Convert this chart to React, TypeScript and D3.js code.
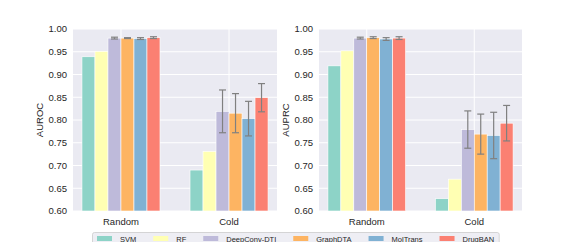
import React from 'react';
import { scaleBand, scaleLinear, range } from 'd3';

const categories = ['Random', 'Cold'];
const models = ['SVM', 'RF', 'DeepConv-DTI', 'GraphDTA', 'MolTrans', 'DrugBAN'];
const colors = ['#8dd3c7', '#ffffb3', '#bebada', '#fdb462', '#80b1d3', '#fb8072'];
const yTicks = [0.6, 0.65, 0.7, 0.75, 0.8, 0.85, 0.9, 0.95, 1.0];

// per model: [Random, Cold]
const aurocMean = [
  [0.939, 0.69],
  [0.951, 0.731],
  [0.98, 0.819],
  [0.98, 0.815],
  [0.979, 0.803],
  [0.981, 0.849],
];
const aurocErr = [
  [0, 0],
  [0, 0],
  [0.002, 0.047],
  [0.001, 0.043],
  [0.002, 0.038],
  [0.002, 0.031],
];
const auprcMean = [
  [0.919, 0.627],
  [0.952, 0.67],
  [0.98, 0.779],
  [0.981, 0.769],
  [0.978, 0.766],
  [0.98, 0.793],
];
const auprcErr = [
  [0, 0],
  [0, 0],
  [0.002, 0.041],
  [0.002, 0.044],
  [0.003, 0.051],
  [0.003, 0.039],
];

const W = 581;
const H = 242;
const top = 29;
const bottom = 211;
const font = '"Liberation Sans", Arial, sans-serif';
const textColor = '#262626';

const measure = (() => {
  let ctx: CanvasRenderingContext2D | null = null;
  return (s: string, size: number) => {
    if (!ctx) ctx = document.createElement('canvas').getContext('2d');
    if (!ctx) return s.length * size * 0.55;
    ctx.font = `${size}px ${font}`;
    return ctx.measureText(s).width;
  };
})();

const Panel = ({ x0, x1, label, mean, err }: any) => {
  const y = scaleLinear().domain([0.6, 1.0]).range([bottom, top]);
  const xCat = scaleBand().domain(categories).range([x0, x1]).paddingInner(0.278).paddingOuter(0.083);
  const xModel = scaleBand().domain(models).range([0, xCat.bandwidth()]);
  const capW = 3.5;
  return (
    <g>
      <rect x={x0} y={top} width={x1 - x0} height={bottom - top} fill='#eaeaf2' />
      {yTicks.map(t => (
        <line key={t} x1={x0} x2={x1} y1={y(t)} y2={y(t)} stroke='white' strokeWidth={1} />
      ))}
      {categories.map(c => (
        <line
          key={c}
          x1={xCat(c)! + xCat.bandwidth() / 2}
          x2={xCat(c)! + xCat.bandwidth() / 2}
          y1={top}
          y2={bottom}
          stroke='white'
          strokeWidth={1}
        />
      ))}
      {models.map((m, i) =>
        categories.map((c, j) => (
          <rect
            key={m + c}
            x={xCat(c)! + xModel(m)!}
            y={y(mean[i][j])}
            width={xModel.bandwidth()}
            height={bottom - y(mean[i][j])}
            fill={colors[i]}
            stroke='white'
            strokeWidth={0.6}
          />
        ))
      )}
      {models.map((m, i) =>
        categories.map((c, j) => {
          const e = err[i][j];
          if (!e) return null;
          const cx = xCat(c)! + xModel(m)! + xModel.bandwidth() / 2;
          const yt = y(mean[i][j] + e);
          const yb = y(mean[i][j] - e);
          return (
            <g key={m + c} stroke='#808080' strokeWidth={1.2}>
              <line x1={cx} x2={cx} y1={yt} y2={yb} />
              <line x1={cx - capW} x2={cx + capW} y1={yt} y2={yt} />
              <line x1={cx - capW} x2={cx + capW} y1={yb} y2={yb} />
            </g>
          );
        })
      )}
      {yTicks.map(t => (
        <text
          key={t}
          x={x0 - 6}
          y={y(t)}
          dy='.35em'
          textAnchor='end'
          fontSize={9.5}
          fontFamily={font}
          fill={textColor}>
          {t.toFixed(2)}
        </text>
      ))}
      {categories.map(c => (
        <text
          key={c}
          x={xCat(c)! + xCat.bandwidth() / 2}
          y={bottom + 14}
          textAnchor='middle'
          fontSize={9.5}
          fontFamily={font}
          fill={textColor}>
          {c}
        </text>
      ))}
      <text
        transform={`translate(${x0 - 30}, ${(top + bottom) / 2}) rotate(-90)`}
        textAnchor='middle'
        fontSize={9.5}
        fontFamily={font}
        fill={textColor}>
        {label}
      </text>
    </g>
  );
};

const Legend = () => {
  const fs = 7.5;
  const patchW = 15;
  const pad = 8;
  const spacing = 17;
  let cur = 97;
  const items = models.map((m, i) => {
    const x = cur;
    const tw = measure(m, fs);
    cur += patchW + pad + tw + spacing;
    return { m, x, color: colors[i] };
  });
  const boxR = cur - spacing + 5;
  return (
    <g>
      <rect x={92.5} y={232.5} width={boxR - 92.5} height={16} rx={2} fill='#eeeef4' stroke='#cccccc' strokeWidth={0.8} />
      {items.map(d => (
        <g key={d.m}>
          <rect x={d.x} y={236} width={patchW} height={5} fill={d.color} />
          <text x={d.x + patchW + pad} y={241.5} fontSize={fs} fontFamily={font} fill={textColor}>
            {d.m}
          </text>
        </g>
      ))}
    </g>
  );
};

export default function App() {
  return (
    <svg width={W} height={H} style={{ position: 'absolute', left: 0, top: 0, background: 'white' }}>
      <Panel x0={73} x1={277} label='AUROC' mean={aurocMean} err={aurocErr} />
      <Panel x0={319} x1={522} label='AUPRC' mean={auprcMean} err={auprcErr} />
      <Legend />
    </svg>
  );
}
